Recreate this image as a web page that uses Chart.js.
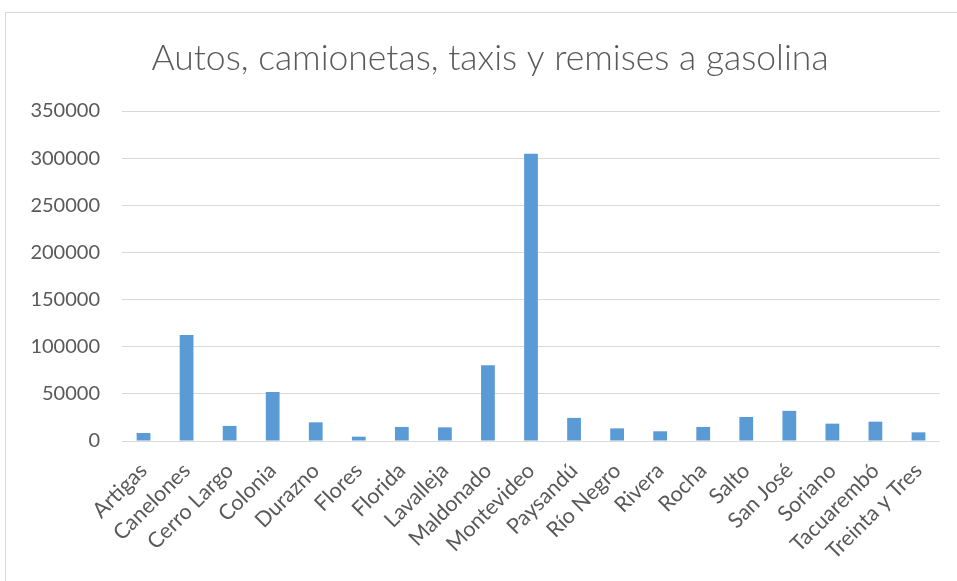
<!DOCTYPE html>
<html>
<head>
<meta charset="utf-8">
<script src="https://cdn.jsdelivr.net/npm/chart.js@4/dist/chart.umd.min.js"></script>
<style>
  html, body { margin: 0; padding: 0; background: #fff; overflow: hidden; }
  #frame {
    position: absolute; left: 5px; top: 12px; width: 1000px; height: 600px;
    border: 1px solid #d9d9d9;
  }
  #wrap { position: absolute; left: 0; top: 0; width: 957px; height: 581px; }
</style>
</head>
<body>
<div id="frame"></div>
<div id="wrap"><canvas id="myBarChart" width="957" height="581"></canvas></div>
<script>
const departamentos = [
  'Artigas', 'Canelones', 'Cerro Largo', 'Colonia', 'Durazno', 'Flores',
  'Florida', 'Lavalleja', 'Maldonado', 'Montevideo', 'Paysandú', 'Río Negro',
  'Rivera', 'Rocha', 'Salto', 'San José', 'Soriano', 'Tacuarembó', 'Treinta y Tres'
];
const vehiculos = [
  8500, 112500, 16000, 52000, 19800, 4600,
  14900, 14500, 80300, 304600, 24500, 13400,
  10300, 14900, 25500, 32000, 18400, 20500, 9200
];
const yMax = 350000;
const yStep = 50000;

// the title box spans the whole canvas; start it a bit further right
// so the heading sits centred over the frame
const titleOffset = {
  id: 'titleOffset',
  beforeDraw(chart) {
    if (chart.titleBlock) {
      chart.titleBlock.left = 40;
    }
  }
};

document.addEventListener('DOMContentLoaded', () => {
  const gray = '#595959';
  const ctx = document.querySelector('#myBarChart').getContext('2d');

  new Chart(ctx, {
    type: 'bar',
    data: {
      labels: departamentos,
      datasets: [{
        label: 'Autos, camionetas, taxis y remises a gasolina',
        data: vehiculos,
        backgroundColor: '#5b9bd5',
        borderWidth: 0,
        categoryPercentage: 1,
        barPercentage: 0.32
      }]
    },
    options: {
      responsive: false,
      animation: false,
      layout: { padding: { left: 0, right: 17, top: 0, bottom: 0 } },
      plugins: {
        legend: { display: false },
        tooltip: { enabled: false },
        title: {
          display: true,
          text: 'Autos, camionetas, taxis y remises a gasolina',
          color: gray,
          font: { family: 'Lato', size: 35.5, weight: 300, lineHeight: 1.2 },
          padding: { top: 37, bottom: 31.4 }
        }
      },
      scales: {
        x: {
          grid: { display: false },
          border: { display: false },
          ticks: {
            color: gray,
            font: { family: 'Lato', size: 21.5 },
            maxRotation: 45,
            minRotation: 45,
            autoSkip: false,
            padding: 9
          },
          afterFit: (scale) => { scale.height = 140; }
        },
        y: {
          min: 0,
          max: yMax,
          grid: { color: '#d9d9d9', lineWidth: 1, drawTicks: false },
          border: { display: false },
          ticks: {
            stepSize: yStep,
            color: gray,
            font: { family: 'Lato', size: 20 },
            padding: 22,
            callback: (value) => String(value)
          },
          afterFit: (scale) => { scale.width = 122; }
        }
      }
    },
    plugins: [titleOffset]
  });
});
</script>
</body>
</html>
